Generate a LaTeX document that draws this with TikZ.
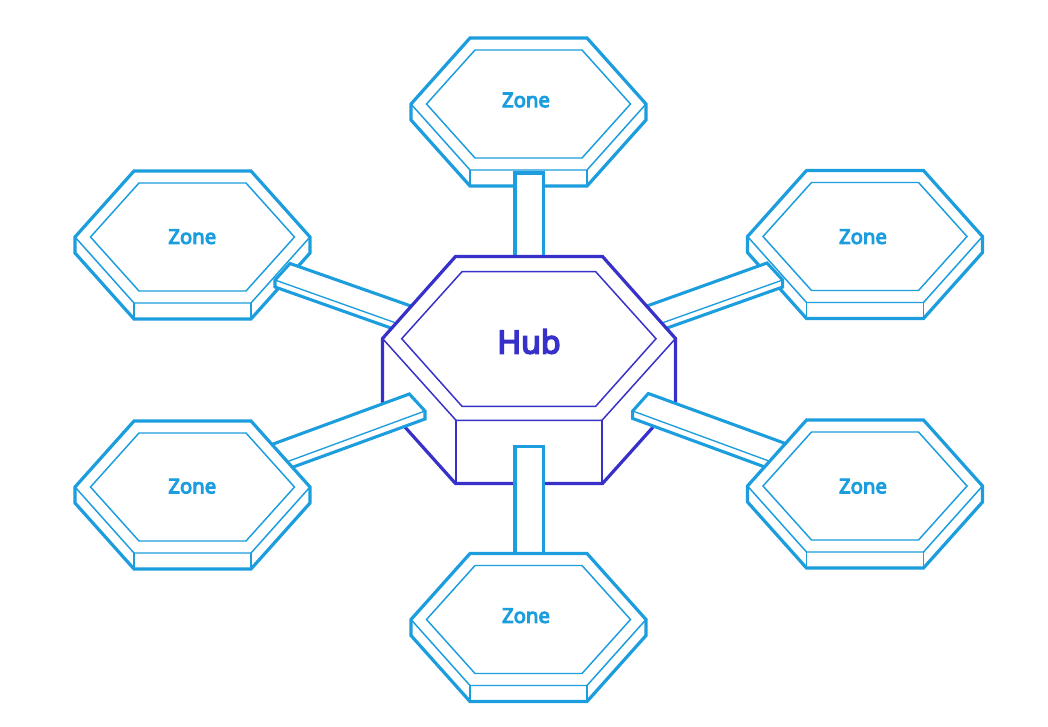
\documentclass[tikz,border=0pt]{standalone}
\usepackage{fontspec}
\setmainfont{Noto Sans}[FakeBold=5]
\definecolor{zonec}{HTML}{1B9DDE}
\definecolor{hubc}{HTML}{3731C9}
\tikzset{
  zoneout/.style={draw=zonec,line width=2.4pt,fill=white,line join=miter},
  zonein/.style={draw=zonec,line width=1.1pt},
  hubout/.style={draw=hubc,line width=2.4pt,fill=white,line join=miter},
  hubin/.style={draw=hubc,line width=1.1pt},
  barout/.style={draw=zonec,line width=2.3pt,fill=white,line join=miter},
  barin/.style={draw=zonec,line width=1pt},
  zonelabel/.style={text=zonec,font=\fontsize{15.2}{18}\selectfont,inner sep=0pt},
  hublabel/.style={text=hubc,font=\fontsize{24}{28}\selectfont,inner sep=0pt}
}
\newcommand{\zonehex}[5]{%
  \begin{scope}[shift={(#2,#3)}]
    \path[zoneout] (-58.5,-66) -- (58.5,-66) -- (117.5,0) -- (117.5,16) -- (58.5,82) -- (-58.5,82) -- (-117.5,16) -- (-117.5,0) -- cycle;
    \draw[zonein] (-53.5,-54) -- (53.5,-54) -- (102,0) -- (53.5,54) -- (-53.5,54) -- (-102,0) -- cycle;
    \draw[zonein] (-117.5,0) -- (-58.5,66) -- (58.5,66) -- (117.5,0);
    \draw[zonein] (-58.5,66) -- (-58.5,82) (58.5,66) -- (58.5,82);
  \end{scope}
  \node[zonelabel] (#1) at (#4,#5) {Zone};
}
% bar: far-top, near-top, near-mid, near-low, then the far ends of low, mid
\newcommand{\sidebar}[6]{%
  \path[barout] #1 -- #2 -- #3 -- #4 -- #5 -- cycle;
  \draw[barin] #3 -- #6;
}
\begin{document}
\begin{tikzpicture}[x=.75pt,y=-.75pt]
\useasboundingbox (0,0) rectangle (1048,727);
% zones lying under their connectors
\zonehex{ztop}{528.5}{104}{526}{100}
\zonehex{zul}{192.5}{237}{192.3}{236.7}
\zonehex{zur}{865}{236.5}{863}{236.7}
% connectors that pass under the hub
\path[barout] (515,262) -- (515,173) -- (543.5,173) -- (543.5,262);
\sidebar{(420,309.2)}{(290,263.5)}{(275,280)}{(275,287)}{(405,333)}{(405,326.2)}
\sidebar{(638,309.2)}{(767,263)}{(782.7,280)}{(782.7,287)}{(653,333)}{(653,326.2)}
% hub
\path[hubout] (455.5,256.5) -- (602.5,256.5) -- (675.5,338.5) -- (675.5,402) -- (602.5,483.5) -- (455.5,483.5) -- (382.5,402) -- (382.5,338.5) -- cycle;
\draw[hubin] (462,271.7) -- (595.7,271.7) -- (656,338.7) -- (595.7,406.3) -- (462,406.3) -- (401.7,338.7) -- cycle;
\draw[hubin] (382.5,338.5) -- (456,420.3) -- (602,420.3) -- (675.5,338.5);
\draw[hubin] (456,420.3) -- (456,483.5) (602,420.3) -- (602,483.5);
\node[hublabel] (hub) at (529,341.5) {Hub};
% connectors that pass over the hub
\path[barout] (515,560) -- (515,446.5) -- (543.5,446.5) -- (543.5,560);
\sidebar{(265,447)}{(409.3,394)}{(425,411)}{(425,419)}{(285,470)}{(285,462.5)}
\sidebar{(795,447)}{(648.3,393.5)}{(632.7,411)}{(632.7,418.5)}{(773,470)}{(773,462.5)}
% zones lying over their connectors
\zonehex{zbot}{528.5}{619.5}{526}{615.7}
\zonehex{zll}{192.5}{487}{192.3}{486.2}
\zonehex{zlr}{865}{486}{863}{486.2}
\end{tikzpicture}
\end{document}
